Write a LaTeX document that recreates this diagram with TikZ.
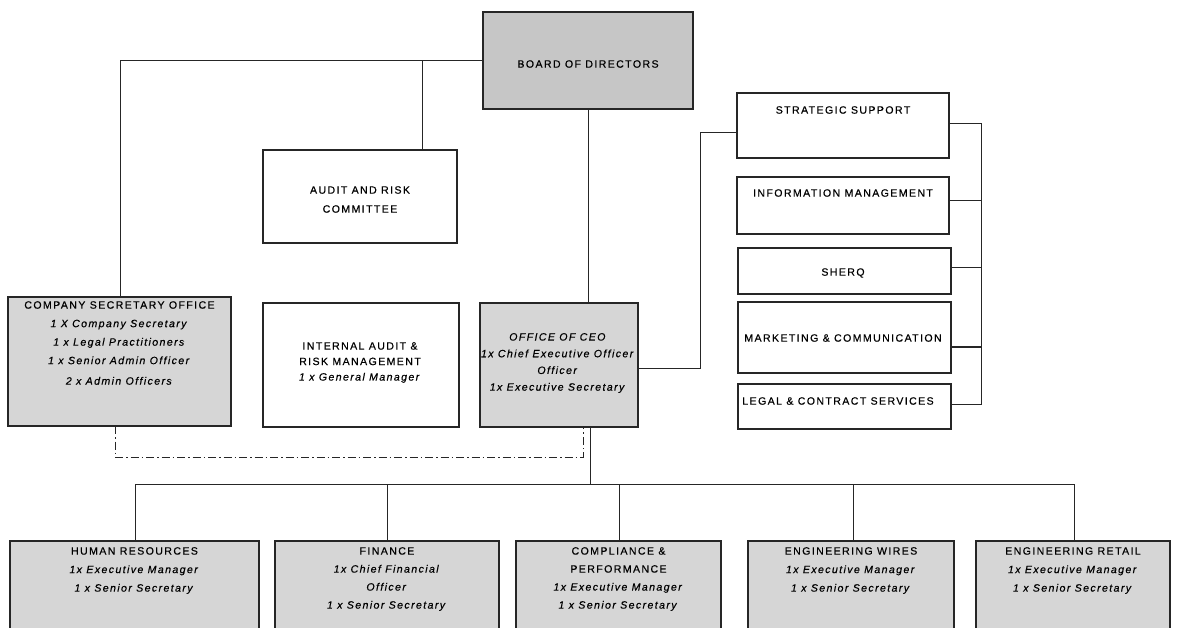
\documentclass[tikz,border=0pt]{standalone}
\usepackage{fontspec}
\setmainfont{Liberation Sans}[LetterSpace=13,FakeBold=0.4]
\begin{document}
\begin{tikzpicture}[x=1pt,y=-1pt,
  box/.style={draw=black!85, line width=1.2pt, inner sep=0pt, outer sep=0pt, anchor=north west},
  gbox/.style={box, fill=gray!32},
  bbox/.style={box, fill=gray!45},
  txt/.style={inner sep=0pt, align=center, font=\fontsize{10.6}{#1}\selectfont},
  txt/.default=12,
  ln/.style={line width=0.9pt, draw=black!85},
  dd/.style={line width=0.9pt, draw=black!85, dash pattern=on 8pt off 3pt on 1.5pt off 3pt},
]
\useasboundingbox (0,0) rectangle (1177,627);
\clip (0,0) rectangle (1177,627);

% boxes
\node[bbox, minimum width=210pt, minimum height=97pt] (board) at (483,12) {};
\node[box, minimum width=194pt, minimum height=93pt] (arc) at (263,150) {};
\node[gbox, minimum width=223pt, minimum height=129pt] (cso) at (8,297) {};
\node[box, minimum width=196pt, minimum height=124pt] (ia) at (263,303) {};
\node[gbox, minimum width=158pt, minimum height=124pt] (ceo) at (480,303) {};
\node[box, minimum width=212pt, minimum height=65pt] (ss) at (737,93) {};
\node[box, minimum width=212pt, minimum height=57pt] (im) at (737,177) {};
\node[box, minimum width=213pt, minimum height=46pt] (sq) at (738,248) {};
\node[box, minimum width=213pt, minimum height=71pt] (mc) at (738,302) {};
\node[box, minimum width=213pt, minimum height=45pt] (lc) at (738,384) {};
\node[gbox, minimum width=249pt, minimum height=95pt] (hr) at (10,541) {};
\node[gbox, minimum width=224pt, minimum height=95pt] (fin) at (275,541) {};
\node[gbox, minimum width=205pt, minimum height=95pt] (cp) at (516,541) {};
\node[gbox, minimum width=206pt, minimum height=95pt] (ew) at (748,541) {};
\node[gbox, minimum width=194pt, minimum height=95pt] (er) at (976,541) {};

% texts
\node[txt] (boardt) at (588,64) {BOARD OF DIRECTORS};
\node[txt=19] (arct) at (360,199.5) {AUDIT AND RISK\\COMMITTEE};
\node[txt=18.5] (csot) at (119.5,343) {COMPANY SECRETARY OFFICE\\\textit{1 X Company Secretary}\\\textit{1 x Legal Practitioners}\\\textit{1 x Senior Admin Officer}\\[2pt]\textit{2 x Admin Officers}};
\node[txt=15.5] (iat) at (360,362.5) {INTERNAL AUDIT \&\\RISK MANAGEMENT\\\textit{1 x General Manager}};
\node[txt=16.7] (ceot) at (558,363) {\textit{OFFICE OF CEO}\\\textit{1x Chief Executive Officer}\\\textit{Officer}\\\textit{1x Executive Secretary}};
\node[txt] (sst) at (843,110) {STRATEGIC SUPPORT};
\node[txt] (imt) at (843,193) {INFORMATION MANAGEMENT};
\node[txt] (sqt) at (843,273) {SHERQ};
\node[txt] (mct) at (843,338) {MARKETING \& COMMUNICATION};
\node[txt] (lct) at (838,401) {LEGAL \& CONTRACT SERVICES};
\node[txt=18.5] (hrt) at (134.5,570.5) {HUMAN RESOURCES\\\textit{1x Executive Manager}\\\textit{1 x Senior Secretary}};
\node[txt=18] (fint) at (387,579) {FINANCE\\\textit{1x Chief Financial}\\\textit{Officer}\\\textit{1 x Senior Secretary}};
\node[txt=18] (cpt) at (618.5,579) {COMPLIANCE \&\\PERFORMANCE\\\textit{1x Executive Manager}\\\textit{1 x Senior Secretary}};
\node[txt=18.5] (ewt) at (851,570.5) {ENGINEERING WIRES\\\textit{1x Executive Manager}\\\textit{1 x Senior Secretary}};
\node[txt=18.5] (ert) at (1073,570.5) {ENGINEERING RETAIL\\\textit{1x Executive Manager}\\\textit{1 x Senior Secretary}};

% coordinates
\coordinate (csotop) at (120,297);
\coordinate (arctop) at (422,150);
\coordinate (ceotop) at (588,303);
\coordinate (dl) at (115,457);
\coordinate (dr) at (583,457);
\coordinate (sa) at (700,368);
\coordinate (sb) at (700,132);
\coordinate (rb1) at (981,123);
\coordinate (rbi) at (981,200);
\coordinate (rbs) at (981,267);
\coordinate (rbm) at (981,347);
\coordinate (rb2) at (981,404);
\coordinate (bus) at (590,484);
\coordinate (busL) at (135,484);
\coordinate (bf) at (387,484);
\coordinate (bc) at (619,484);
\coordinate (bw) at (853,484);
\coordinate (busR) at (1074,484);

% connectors
\draw[ln] (board.west) -| (csotop);
\draw[ln] (board.west -| arctop) -- (arctop);
\draw[ln] (board.south -| ceotop) -- (ceotop);
\draw[dd] (cso.south -| dl) -- (dl) -- (dr) -- (ceo.south -| dr);
\draw[ln] (ceo.east |- sa) -- (sa) -- (sb) -- (ss.west |- sb);
\draw[ln] (ss.east |- rb1) -- (rb1) -- (rb2) -- (lc.east |- rb2);
\draw[ln] (im.east |- rbi) -- (rbi);
\draw[ln] (sq.east |- rbs) -- (rbs);
\draw[ln, line width=1.4pt] (mc.east |- rbm) -- (rbm);
\draw[ln] (ceo.south -| bus) -- (bus);
\draw[ln] (busL) -- (busR);
\draw[ln] (busL) -- (hr.north -| busL);
\draw[ln] (bf) -- (fin.north -| bf);
\draw[ln] (bc) -- (cp.north -| bc);
\draw[ln] (bw) -- (ew.north -| bw);
\draw[ln] (busR) -- (er.north -| busR);
\end{tikzpicture}
\end{document}
